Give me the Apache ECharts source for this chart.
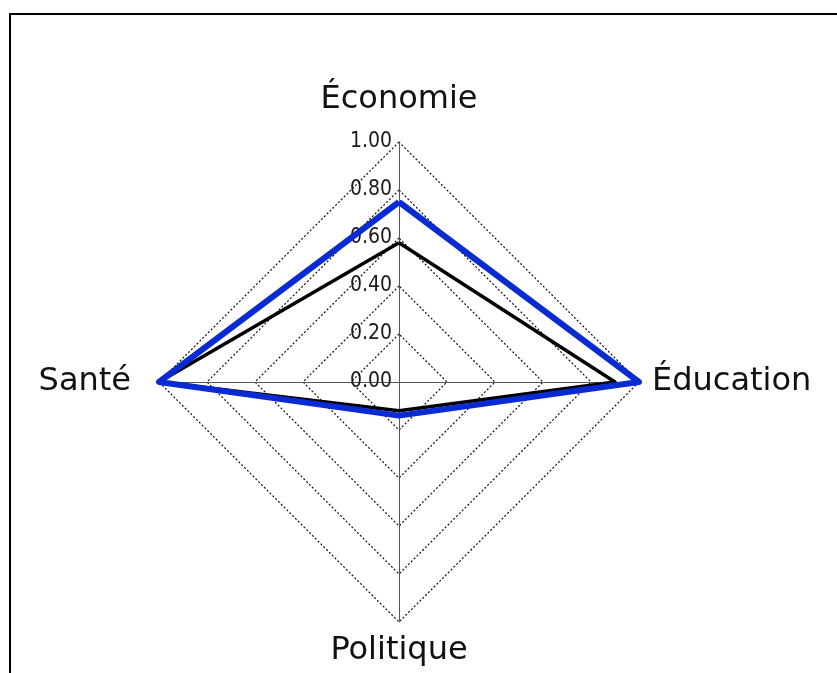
<!DOCTYPE html>
<html>
<head>
    <meta charset="utf-8">
    <title>Radar</title>
    <style>
        html, body {
            margin: 0;
            padding: 0;
            background: #fff;
        }

        #frame {
            position: absolute;
            left: 9px;
            top: 13px;
            width: 840px;
            height: 680px;
            border-top: 2px solid #000;
            border-left: 2px solid #000;
        }

        #chart {
            position: absolute;
            left: 0;
            top: 0;
            width: 837px;
            height: 673px;
        }
    </style>
    <script src="https://cdn.jsdelivr.net/npm/echarts@6.0.0/dist/echarts.min.js"></script>
</head>
<body>
    <div id="frame"></div>
    <div id="chart"></div>

    <script>
        // indicators, counterclockwise from the top
        var indicators = ['Économie', 'Santé', 'Politique', 'Éducation'];
        var seriesBlack = [0.58, 1.0, 0.12, 0.90];
        var seriesBlue = [0.75, 1.0, 0.14, 1.0];
        var nameGaps = [26, 28, 13, 13];

        var myChart = echarts.init(document.getElementById('chart'));

        var option = {
            animation: false,
            radar: {
                center: [399, 382],
                radius: 240,
                shape: 'polygon',
                startAngle: 90,
                splitNumber: 5,
                indicator: indicators.map(function (name, i) {
                    var ind = { name: name, min: 0, max: 1, nameGap: nameGaps[i] };
                    if (i === 0) {
                        ind.axisLabel = {
                            show: true,
                            fontFamily: 'DejaVu Sans Condensed, Liberation Sans Narrow, Liberation Sans',
                            fontSize: 21,
                            color: '#1a1a1a',
                            margin: 7,
                            formatter: function (v) {
                                return v.toFixed(2);
                            }
                        };
                    }
                    return ind;
                }),
                axisName: {
                    color: '#111',
                    fontFamily: 'DejaVu Sans',
                    fontSize: 32
                },
                axisLine: {
                    lineStyle: { color: '#555', width: 1 }
                },
                splitLine: {
                    lineStyle: { color: '#111', width: 1.2, type: [2, 2] }
                },
                splitArea: { show: false },
                axisLabel: { show: false }
            },
            series: [{
                type: 'radar',
                symbol: 'none',
                data: [{
                    value: seriesBlack,
                    lineStyle: { color: '#000', width: 3.5 }
                }, {
                    value: seriesBlue,
                    lineStyle: { color: '#0a2bd2', width: 6 }
                }]
            }]
        };

        myChart.setOption(option);
    </script>
</body>
</html>
